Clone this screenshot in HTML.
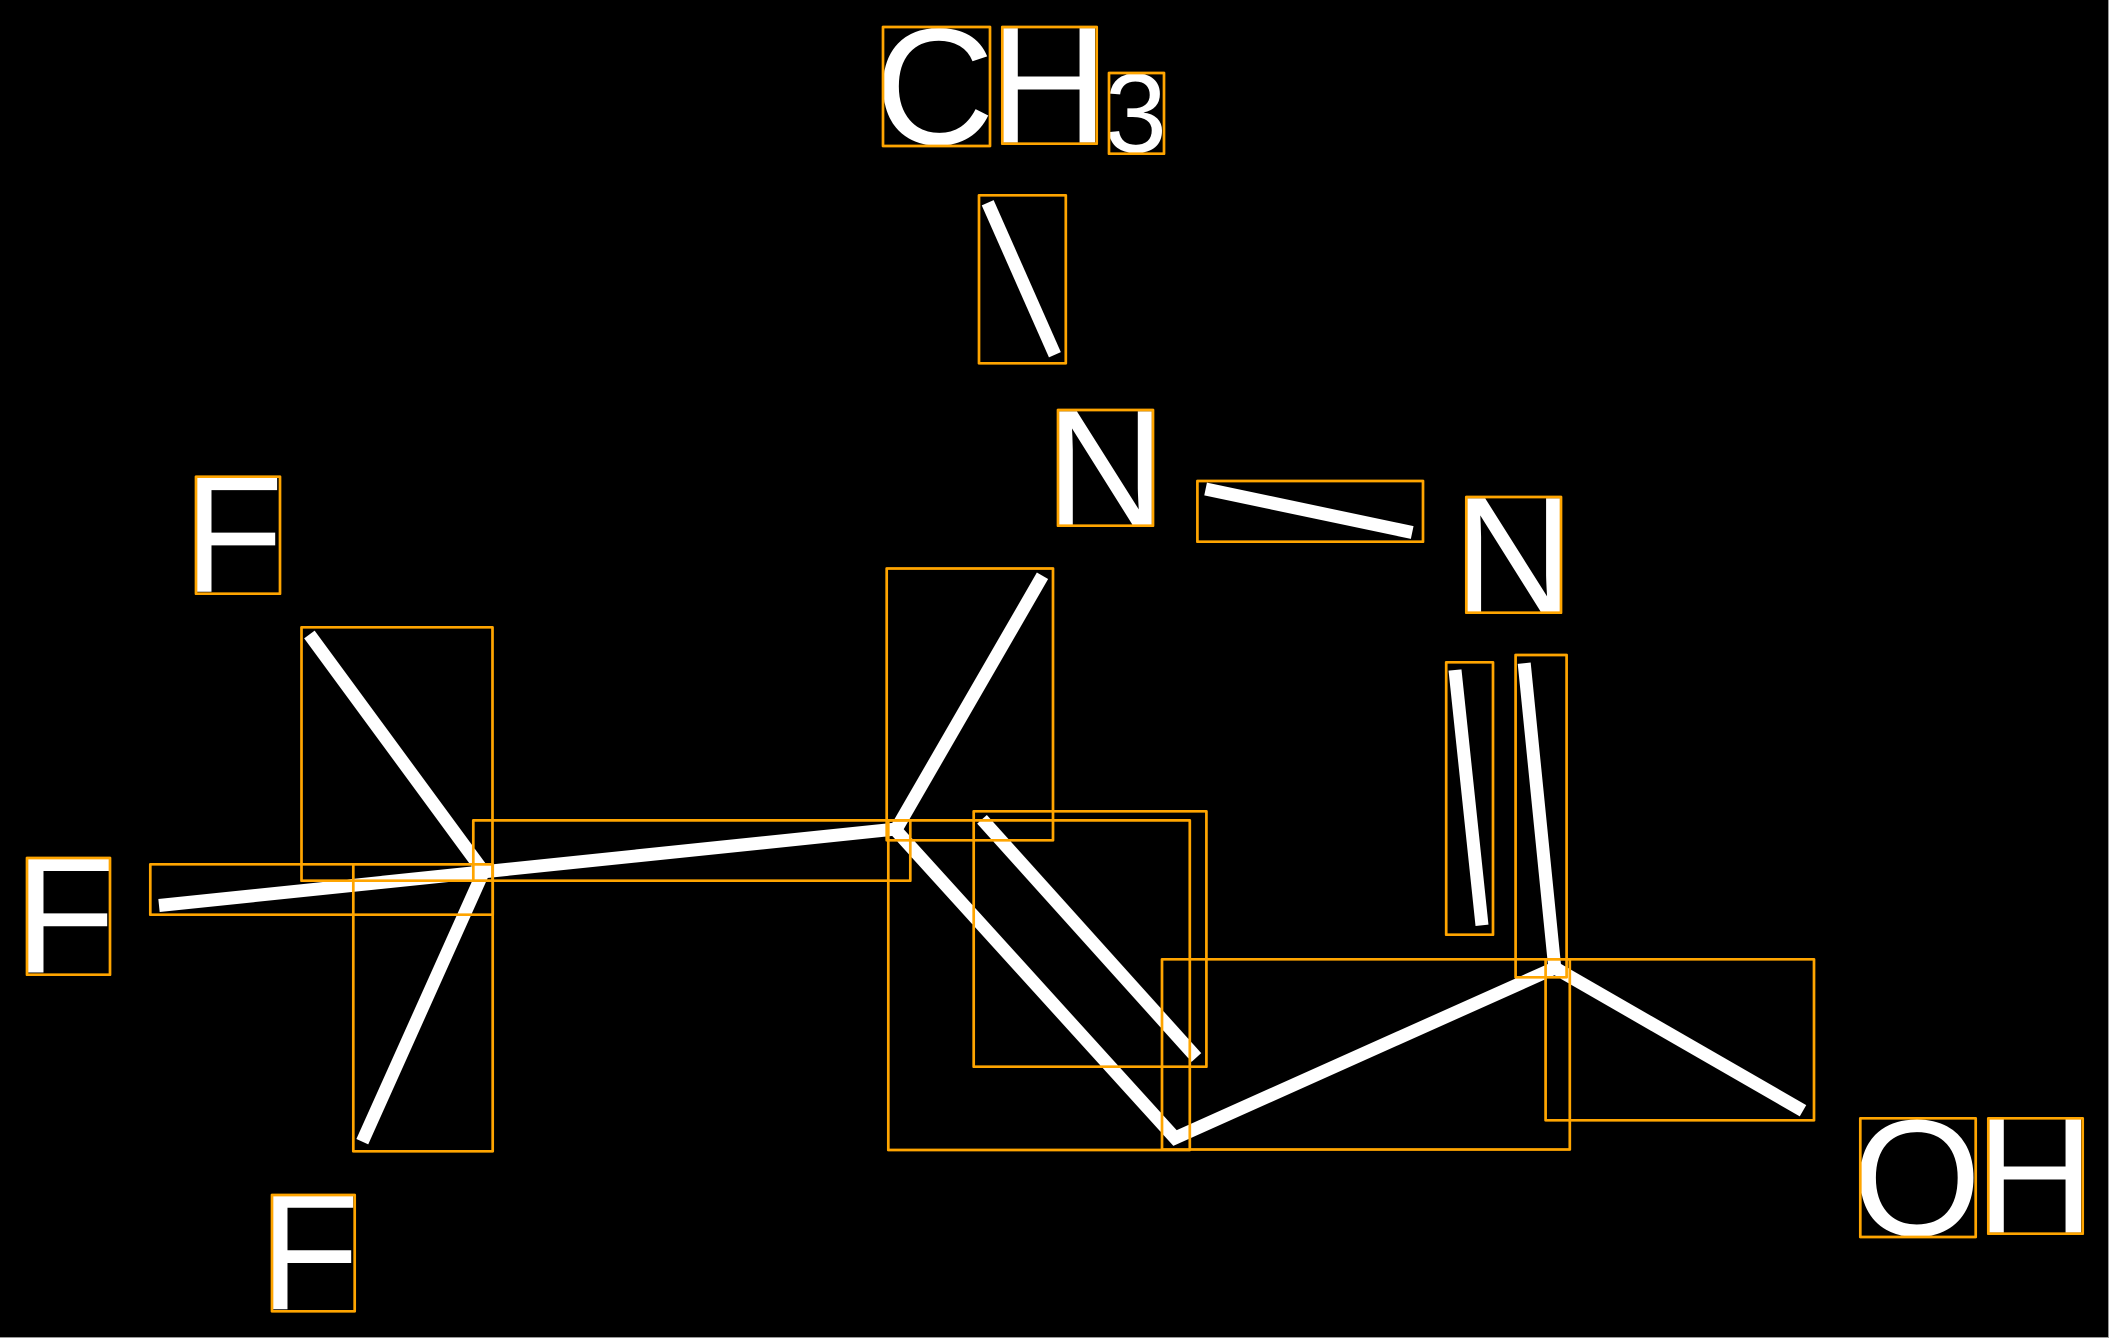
<!DOCTYPE html>
<html>
<head>
<meta charset="utf-8">
<style>
html,body{margin:0;padding:0;background:#000;width:2109px;height:1338px;overflow:hidden}
svg{display:block;position:absolute;left:0;top:0}
text{font-family:"Liberation Sans",sans-serif;fill:#fff;font-size:166px}
</style>
</head>
<body>
<svg width="2109" height="1338" viewBox="0 0 2109 1338" xmlns="http://www.w3.org/2000/svg">
<rect x="0" y="0" width="2109" height="1338" fill="#000"/>
<g fill="none" stroke="#fff" stroke-width="13" stroke-linecap="butt" stroke-linejoin="miter">
<line x1="987.7" y1="202.7" x2="1054.9" y2="354.8"/>
<line x1="1205.6" y1="489" x2="1412.2" y2="532.5"/>
<line x1="1455" y1="670" x2="1482" y2="925.3"/>
<line x1="1524.2" y1="663.2" x2="1555" y2="970"/>
<line x1="159" y1="905.5" x2="896" y2="829"/>
<line x1="309.4" y1="634.5" x2="486" y2="875"/>
<line x1="362.3" y1="1141.7" x2="486" y2="866"/>
<line x1="1042.5" y1="575.8" x2="894" y2="833"/>
<polyline points="892,826 1175,1138 1557,967"/>
<line x1="1555" y1="968" x2="1803" y2="1110.7"/>
<line x1="982" y1="819.3" x2="1196.4" y2="1057.5"/>
</g>
<circle cx="484" cy="872" r="6.5" fill="#fff"/>
<circle cx="895" cy="829" r="6.5" fill="#fff"/>
<circle cx="1555" cy="968" r="7" fill="#fff"/>
<text x="874.7" y="144">C</text>
<text x="988.7" y="142.4">H</text>
<text x="1104.6" y="152" style="font-size:112px">3</text>
<text x="1045.4" y="525.7">N</text>
<text x="1453.7" y="612.7">N</text>
<text x="182.4" y="591.7">F</text>
<text x="14.4" y="972.5">F</text>
<text x="258.4" y="1309.3">F</text>
<text x="1852.3" y="1235.4">O</text>
<text x="1974.7" y="1232.4">H</text>
<g fill="none" stroke="#FFA500" stroke-width="2.7" stroke-linejoin="round">
<rect x="883" y="27" width="107" height="119"/>
<rect x="1002.3" y="27" width="94.4" height="116.7"/>
<rect x="1109" y="73" width="55" height="80.7"/>
<rect x="979" y="195.3" width="86.8" height="168"/>
<rect x="1058" y="410" width="95" height="115.7"/>
<rect x="1197.4" y="481" width="225.6" height="60.7"/>
<rect x="1466.3" y="497" width="94.7" height="115.7"/>
<rect x="196" y="476.7" width="84" height="117"/>
<rect x="27" y="858" width="83" height="116.7"/>
<rect x="272" y="1195" width="82.7" height="116.3"/>
<rect x="1860.3" y="1118.3" width="115.4" height="118.7"/>
<rect x="1988.3" y="1118.3" width="94.4" height="115.4"/>
<rect x="150.3" y="864.3" width="342.4" height="50.4"/>
<rect x="353.3" y="864.3" width="139.4" height="287"/>
<rect x="301.5" y="627.3" width="191" height="253.4"/>
<rect x="473.3" y="820.4" width="437" height="60.3"/>
<rect x="886.7" y="568.5" width="166.3" height="271.8"/>
<rect x="888.3" y="820.4" width="301.5" height="329.6"/>
<rect x="973.7" y="811.3" width="232.7" height="255.4"/>
<rect x="1162" y="959.3" width="407.8" height="190.2"/>
<rect x="1446.2" y="662.3" width="46.8" height="272.4"/>
<rect x="1515.6" y="655" width="51" height="322.3"/>
<rect x="1545.6" y="959.3" width="268.4" height="161"/>
</g>
<rect x="2108" y="0" width="1" height="1338" fill="#999"/>
<rect x="0" y="1337" width="2109" height="1" fill="#999"/>
</svg>
</body>
</html>
